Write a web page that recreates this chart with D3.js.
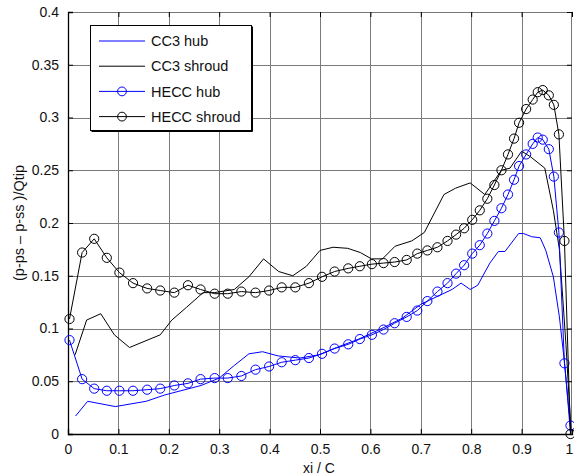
<!DOCTYPE html>
<html>
<head>
<meta charset="utf-8">
<script src="https://cdn.jsdelivr.net/npm/d3@7"></script>
<style>
  html, body { margin: 0; padding: 0; background: #fff; }
  svg { display: block; font-family: "Liberation Sans", Arial, sans-serif; }
</style>
</head>
<body>
<svg id="chart" width="574" height="476"></svg>
<script>
// Pressure-difference distributions along the chord
const xTicks = [0, 0.1, 0.2, 0.3, 0.4, 0.5, 0.6, 0.7, 0.8, 0.9, 1];
const yTicks = [0, 0.05, 0.1, 0.15, 0.2, 0.25, 0.3, 0.35, 0.4];
const xTickLabels = ["0", "0.1", "0.2", "0.3", "0.4", "0.5", "0.6", "0.7", "0.8", "0.9", "1"];
const yTickLabels = ["0", "0.05", "0.1", "0.15", "0.2", "0.25", "0.3", "0.35", "0.4"];

const seriesNames = ["CC3 hub", "CC3 shroud", "HECC hub", "HECC shroud"];

const cc3HubX = [0.015,0.039,0.094,0.155,0.192,0.264,0.30,0.33,0.359,0.386,0.417,0.46,0.497,0.533,0.577,0.627,0.664,0.70,0.74,0.762,0.78,0.798,0.813,0.837,0.854,0.867,0.894,0.904,0.92,0.937,0.948,0.963,0.975,0.986,0.997];
const cc3HubY = [0.017,0.031,0.026,0.031,0.037,0.046,0.053,0.065,0.076,0.078,0.074,0.072,0.075,0.082,0.090,0.101,0.110,0.123,0.132,0.137,0.143,0.137,0.141,0.162,0.173,0.173,0.19,0.19,0.187,0.186,0.174,0.149,0.111,0.064,0.001];

const cc3ShroudX = [0.014,0.037,0.065,0.092,0.122,0.183,0.206,0.235,0.268,0.29,0.33,0.359,0.388,0.418,0.446,0.473,0.5,0.526,0.555,0.58,0.602,0.624,0.649,0.682,0.707,0.746,0.769,0.798,0.827,0.86,0.877,0.9,0.917,0.946,0.963,0.975,0.988,0.998];
const cc3ShroudY = [0.075,0.108,0.114,0.094,0.082,0.094,0.108,0.12,0.134,0.134,0.137,0.149,0.166,0.154,0.150,0.159,0.174,0.177,0.176,0.172,0.166,0.166,0.178,0.183,0.191,0.227,0.233,0.238,0.227,0.250,0.252,0.268,0.263,0.252,0.212,0.175,0.085,0.003];

const heccX = [0.003,0.028,0.052,0.077,0.102,0.129,0.157,0.183,0.211,0.238,0.263,0.291,0.317,0.344,0.372,0.399,0.424,0.451,0.478,0.504,0.529,0.556,0.579,0.603,0.626,0.648,0.672,0.693,0.713,0.733,0.753,0.770,0.786,0.802,0.817,0.832,0.846,0.860,0.873,0.885,0.895,0.909,0.922,0.932,0.942,0.954,0.964,0.974,0.985,0.997];
const heccHubY = [0.089,0.052,0.043,0.041,0.041,0.041,0.042,0.043,0.046,0.048,0.052,0.053,0.053,0.055,0.061,0.064,0.068,0.070,0.072,0.076,0.081,0.085,0.090,0.094,0.099,0.105,0.111,0.117,0.126,0.135,0.143,0.152,0.160,0.171,0.179,0.190,0.202,0.214,0.227,0.241,0.254,0.265,0.275,0.281,0.279,0.270,0.244,0.191,0.067,0.008];
const heccShroudY = [0.109,0.172,0.185,0.167,0.153,0.143,0.138,0.136,0.134,0.141,0.137,0.133,0.133,0.135,0.134,0.136,0.139,0.139,0.143,0.149,0.154,0.157,0.159,0.161,0.162,0.163,0.165,0.171,0.174,0.177,0.183,0.189,0.195,0.203,0.212,0.223,0.236,0.250,0.265,0.280,0.295,0.308,0.317,0.324,0.326,0.321,0.312,0.284,0.183,0.0];

const margin = { left: 68, top: 12, right: 2, bottom: 42 };
const W = 574, H = 476;
const iw = W - margin.left - margin.right;
const ih = H - margin.top - margin.bottom;

const svg = d3.select("#chart");
const g = svg.append("g").attr("transform", `translate(${margin.left},${margin.top})`);

const x = d3.scaleLinear().domain([0, 1]).range([0, iw]);
const y = d3.scaleLinear().domain([0, 0.4]).range([ih, 0]);

// grid
g.append("g").selectAll("line").data(xTicks.slice(1, -1)).join("line")
  .attr("x1", d => Math.round(x(d)) + 0.5).attr("x2", d => Math.round(x(d)) + 0.5)
  .attr("y1", 0).attr("y2", ih)
  .attr("stroke", "#7a7a7a").attr("stroke-width", 1);
g.append("g").selectAll("line").data(yTicks.slice(1, -1)).join("line")
  .attr("y1", d => Math.round(y(d)) + 0.5).attr("y2", d => Math.round(y(d)) + 0.5)
  .attr("x1", 0).attr("x2", iw)
  .attr("stroke", "#7a7a7a").attr("stroke-width", 1);

// frame (top/right lighter)
g.append("line").attr("x1", 0).attr("x2", iw).attr("y1", 0.5).attr("y2", 0.5).attr("stroke", "#777");
g.append("line").attr("x1", iw - 0.5).attr("x2", iw - 0.5).attr("y1", 0).attr("y2", ih).attr("stroke", "#777");

// axes with inward ticks
const xAxis = d3.axisBottom(x).tickValues(xTicks).tickSize(-5).tickPadding(10)
  .tickFormat((d, i) => xTickLabels[i]);
const yAxis = d3.axisLeft(y).tickValues(yTicks).tickSize(-5).tickPadding(10)
  .tickFormat((d, i) => yTickLabels[i]);

const gx = g.append("g").attr("transform", `translate(0,${ih})`).call(xAxis);
const gy = g.append("g").call(yAxis);
[gx, gy].forEach(a => {
  a.select(".domain").attr("stroke", "#000").attr("stroke-width", 1.3);
  a.selectAll(".tick line").attr("stroke", "#000");
  a.selectAll(".tick text").attr("fill", "#111").attr("font-size", 14)
    .attr("font-family", "Liberation Sans, Arial, sans-serif");
});
gy.selectAll(".tick text").attr("dx", "1px");
// keep the last x label inside the page edge
gx.selectAll(".tick text").filter(d => d === 1).attr("dx", "-3px");

// top/right ticks
const gt = g.append("g").call(d3.axisTop(x).tickValues(xTicks).tickSize(-5).tickFormat(""));
gt.select(".domain").remove();
gt.selectAll(".tick line").attr("stroke", "#000");
const gr = g.append("g").attr("transform", `translate(${iw},0)`)
  .call(d3.axisRight(y).tickValues(yTicks).tickSize(-5).tickFormat(""));
gr.select(".domain").remove();
gr.selectAll(".tick line").attr("stroke", "#000");

// axis titles
svg.append("text").attr("x", margin.left + iw / 2 - 1).attr("y", 473)
  .attr("text-anchor", "middle").attr("font-size", 14).attr("fill", "#111").text("xi / C");
svg.append("text").attr("transform", `translate(24,${margin.top + ih / 2}) rotate(-90)`)
  .attr("text-anchor", "middle").attr("font-size", 14.5).attr("fill", "#111")
  .text("(p-ps \u2013 p-ss )/Qtip");

// series
const line = d3.line().x(d => x(d[0])).y(d => y(d[1]));
const zip = (xs, ys) => xs.map((v, i) => [v, ys[i]]);

const series = [
  { name: seriesNames[0], data: zip(cc3HubX, cc3HubY), color: "#0000ff", marker: false },
  { name: seriesNames[1], data: zip(cc3ShroudX, cc3ShroudY), color: "#000000", marker: false },
  { name: seriesNames[2], data: zip(heccX, heccHubY), color: "#0000ff", marker: true },
  { name: seriesNames[3], data: zip(heccX, heccShroudY), color: "#000000", marker: true }
];

series.forEach(s => {
  g.append("path").datum(s.data).attr("d", line)
    .attr("fill", "none").attr("stroke", s.color).attr("stroke-width", 1);
  if (s.marker) {
    g.append("g").selectAll("circle").data(s.data).join("circle")
      .attr("cx", d => x(d[0])).attr("cy", d => y(d[1])).attr("r", 4.6)
      .attr("fill", "none").attr("stroke", s.color).attr("stroke-width", 1);
  }
});

// legend
const lg = svg.append("g");
lg.append("rect").attr("x", 90.5).attr("y", 25.5).attr("width", 161).attr("height", 105)
  .attr("fill", "#fff").attr("stroke", "#000").attr("stroke-width", 1);
lg.append("polyline").attr("points", "252.5,26.5 252.5,131.5 91.5,131.5")
  .attr("fill", "none").attr("stroke", "#000").attr("stroke-width", 1);
const rowY = d => 41 + d * 25.2;
series.forEach((s, i) => {
  const ry = rowY(i);
  lg.append("line").attr("x1", 99).attr("x2", 145).attr("y1", ry).attr("y2", ry)
    .attr("stroke", s.color).attr("stroke-width", 1);
  if (s.marker) {
    lg.append("circle").attr("cx", 122).attr("cy", ry).attr("r", 4.4)
      .attr("fill", "none").attr("stroke", s.color).attr("stroke-width", 1);
  }
  lg.append("text").attr("x", 151).attr("y", ry).attr("dy", "0.36em")
    .attr("font-size", 14.5).attr("fill", "#111").text(s.name);
});
</script>
</body>
</html>
